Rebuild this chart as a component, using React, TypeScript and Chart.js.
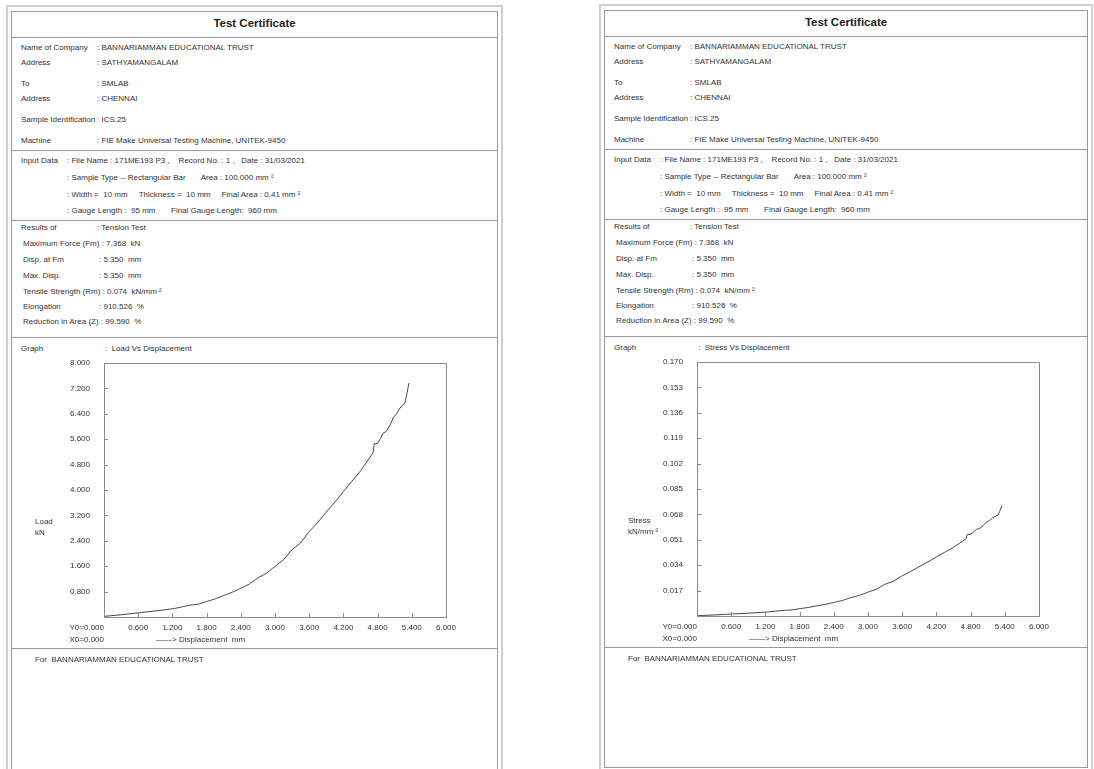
import React, { useEffect, useRef } from "react";
import { Chart, registerables } from "chart.js";
Chart.register(...registerables);

// ---- Data ----
const displacementMm = [0, 0.3, 0.65, 1.0, 1.24, 1.4, 1.53, 1.65, 1.82, 1.95, 2.12, 2.25, 2.41, 2.55, 2.7, 2.85, 2.99, 3.15, 3.29, 3.45, 3.58, 3.75, 3.93, 4.08, 4.22, 4.5, 4.72, 4.74, 4.8, 4.85, 4.9, 4.95, 5.02, 5.08, 5.12, 5.18, 5.24, 5.28, 5.31, 5.35];
const loadKN = [0.02, 0.07, 0.14, 0.21, 0.27, 0.33, 0.38, 0.4, 0.5, 0.57, 0.69, 0.78, 0.91, 1.04, 1.23, 1.38, 1.58, 1.8, 2.11, 2.33, 2.65, 2.98, 3.37, 3.68, 4.0, 4.6, 5.17, 5.45, 5.47, 5.62, 5.8, 5.84, 6.05, 6.3, 6.36, 6.55, 6.68, 6.75, 7.0, 7.37];
const stressKNmm2 = [0.0002, 0.0007, 0.0014, 0.0021, 0.0027, 0.0033, 0.0038, 0.004, 0.005, 0.0057, 0.0069, 0.0078, 0.0091, 0.0104, 0.0123, 0.0138, 0.0158, 0.018, 0.0211, 0.0233, 0.0265, 0.0298, 0.0337, 0.0368, 0.04, 0.046, 0.0517, 0.0545, 0.0547, 0.0562, 0.058, 0.0584, 0.0605, 0.063, 0.0636, 0.0655, 0.0668, 0.0675, 0.07, 0.0737];

const xTickValues = [0, 0.6, 1.2, 1.8, 2.4, 3.0, 3.6, 4.2, 4.8, 5.4, 6.0];
const loadTickValues = [0, 0.8, 1.6, 2.4, 3.2, 4.0, 4.8, 5.6, 6.4, 7.2, 8.0];
const stressTickValues = [0, 0.017, 0.034, 0.051, 0.068, 0.085, 0.102, 0.119, 0.136, 0.153, 0.17];

const companyRows = [
  ["Name of Company", ": BANNARIAMMAN EDUCATIONAL TRUST"],
  ["Address", ": SATHYAMANGALAM"],
  ["To", ": SMLAB"],
  ["Address", ": CHENNAI"],
  ["Sample Identification", ": ICS.25"],
  ["Machine", ": FIE Make Universal Testing Machine, UNITEK-9450"],
];
const companyRowY = [48, 63, 84, 99, 120, 141];

const inputLines = [
  ": File Name : 171ME193 P3 ,    Record No. : 1 ,   Date : 31/03/2021",
  ": Sample Type -- Rectangular Bar       Area : 100.000 mm \u00B2",
  ": Width =  10 mm     Thickness =  10 mm     Final Area : 0.41 mm \u00B2",
  ": Gauge Length :  95 mm       Final Gauge Length:  960 mm",
];
const inputRowY = [161, 178, 195, 211];

const resultRows = [
  ["Maximum Force (Fm)", ": 7.368  kN"],
  ["Disp. at Fm", ": 5.350  mm"],
  ["Max. Disp.", ": 5.350  mm"],
  ["Tensile Strength (Rm)", ": 0.074  kN/mm \u00B2"],
  ["Elongation", ": 910.526  %"],
  ["Reduction in Area (Z)", ": 99.590  %"],
];
const resultRowY = [244, 260, 276, 292, 307, 322];

const FONT = "'Liberation Sans', Arial, sans-serif";
const TEXT = "#333";

const frameTicks = {
  id: "frameTicks",
  afterDatasetsDraw(chart: any) {
    const { ctx, chartArea, scales } = chart;
    const { left, right, top, bottom } = chartArea;
    ctx.save();
    ctx.strokeStyle = "#8a8a8a";
    ctx.lineWidth = 1;
    ctx.strokeRect(Math.round(left) + 0.5, Math.round(top) + 0.5, Math.round(right - left), Math.round(bottom - top));
    ctx.beginPath();
    const xs = scales.x.ticks.map((t: any) => t.value);
    xs.slice(1, -1).forEach((v: number) => {
      const px = Math.round(scales.x.getPixelForValue(v)) + 0.5;
      ctx.moveTo(px, Math.round(bottom));
      ctx.lineTo(px, Math.round(bottom) - 4);
    });
    const ys = scales.y.ticks.map((t: any) => t.value);
    ys.slice(1, -1).forEach((v: number) => {
      const py = Math.round(scales.y.getPixelForValue(v)) + 0.5;
      ctx.moveTo(Math.round(left), py);
      ctx.lineTo(Math.round(left) + 4, py);
    });
    ctx.stroke();
    ctx.restore();
  },
};

function GraphCanvas({ xs, ys, yTicks, yMax, decimals }: { xs: number[]; ys: number[]; yTicks: number[]; yMax: number; decimals: number }) {
  const ref = useRef<HTMLCanvasElement>(null);
  useEffect(() => {
    if (!ref.current) return;
    const tickFont = { family: FONT, size: 8 };
    const chart = new Chart(ref.current, {
      type: "line",
      data: {
        datasets: [
          {
            data: xs.map((x, i) => ({ x, y: ys[i] })),
            borderColor: "#4a4a4a",
            borderWidth: 1,
            pointRadius: 0,
            tension: 0,
            fill: false,
          },
        ],
      },
      options: {
        responsive: false,
        animation: false,
        devicePixelRatio: 1,
        layout: { padding: { top: 13, right: 14, bottom: 13, left: 0 } },
        plugins: { legend: { display: false }, tooltip: { enabled: false } },
        scales: {
          x: {
            type: "linear",
            min: 0,
            max: 6,
            grid: { display: false, drawTicks: false },
            border: { display: false },
            ticks: {
              font: tickFont,
              color: TEXT,
              padding: 6,
              maxRotation: 0,
              autoSkip: false,
              callback: (v: any) => (Number(v) === 0 ? "" : Number(v).toFixed(3)),
            },
            afterBuildTicks: (s: any) => {
              s.ticks = xTickValues.map((value) => ({ value }));
            },
            afterFit: (s: any) => {
              s.height = 20;
              s.paddingLeft = 0;
              s.paddingRight = 0;
              s.paddingTop = 0;
              s.paddingBottom = 0;
            },
          },
          y: {
            type: "linear",
            min: 0,
            max: yMax,
            grid: { display: false, drawTicks: false },
            border: { display: false },
            ticks: {
              font: tickFont,
              color: TEXT,
              padding: 14,
              autoSkip: false,
              callback: (v: any) => (Number(v) === 0 ? "" : Number(v).toFixed(decimals)),
            },
            afterBuildTicks: (s: any) => {
              s.ticks = yTicks.map((value) => ({ value }));
            },
            afterFit: (s: any) => {
              s.width = 64;
              s.paddingLeft = 0;
              s.paddingRight = 0;
              s.paddingTop = 0;
              s.paddingBottom = 0;
            },
          },
        },
      },
      plugins: [frameTicks],
    });
    return () => chart.destroy();
  }, []);
  return <canvas ref={ref} width={420} height={300} style={{ display: "block" }} />;
}

function T({ x, y, children, align }: any) {
  return (
    <div
      style={{
        position: "absolute",
        left: align === "right" ? undefined : x,
        right: align === "right" ? 1094 - x : undefined,
        top: y - 6,
        height: 12,
        lineHeight: "12px",
        fontSize: 8,
        color: TEXT,
        whiteSpace: "pre",
      }}
    >
      {children}
    </div>
  );
}

function HLine({ x, y, w }: any) {
  return <div style={{ position: "absolute", left: x, top: y, width: w, height: 1, background: "#999" }} />;
}

function ResultRow({ L, y, label, value }: any) {
  const longLabel = label.length > 15;
  if (longLabel) {
    return <T x={L + 12} y={y}>{label + " " + value}</T>;
  }
  return (
    <>
      <T x={L + 12} y={y}>{label}</T>
      <T x={L + 88} y={y}>{value}</T>
    </>
  );
}

function Certificate({ L, W, dy, graphTitle, axisName, axisUnit, ys, yTicks, yMax, decimals, innerBottom }: any) {
  const Y = (v: number) => v + dy;
  return (
    <>
      <div
        style={{
          position: "absolute",
          left: L - 5,
          top: 5 + dy,
          width: W + 10,
          height: 800,
          border: "2px solid #cfcfcf",
          boxSizing: "border-box",
        }}
      />
      <div
        style={{
          position: "absolute",
          left: L,
          top: 11 + dy,
          width: W,
          height: innerBottom ? innerBottom - 11 - dy : 800,
          border: "1px solid #999",
          boxSizing: "border-box",
          background: "#fff",
        }}
      />
      <div
        style={{
          position: "absolute",
          left: L,
          top: Y(17),
          width: W,
          textAlign: "center",
          fontSize: 11.5,
          fontWeight: 700,
          color: "#222",
          lineHeight: "13px",
        }}
      >
        Test Certificate
      </div>
      <HLine x={L} y={Y(37)} w={W} />
      {companyRows.map((r, i) => (
        <React.Fragment key={"c" + i}>
          <T x={L + 10} y={Y(companyRowY[i])}>{r[0]}</T>
          <T x={L + 86} y={Y(companyRowY[i])}>{r[1]}</T>
        </React.Fragment>
      ))}
      <HLine x={L} y={Y(150)} w={W} />
      <T x={L + 10} y={Y(inputRowY[0])}>Input Data</T>
      {inputLines.map((s, i) => (
        <T key={"i" + i} x={L + 56} y={Y(inputRowY[i])}>{s}</T>
      ))}
      <HLine x={L} y={Y(220)} w={W} />
      <T x={L + 10} y={Y(228)}>Results of</T>
      <T x={L + 86} y={Y(228)}>: Tension Test</T>
      {resultRows.map((r, i) => (
        <ResultRow key={"r" + i} L={L} y={Y(resultRowY[i])} label={r[0]} value={r[1]} />
      ))}
      <HLine x={L} y={Y(337)} w={W} />
      <T x={L + 10} y={Y(349)}>Graph</T>
      <T x={L + 94} y={Y(349)}>{":  " + graphTitle}</T>
      <div style={{ position: "absolute", left: L + 29, top: Y(350) }}>
        <GraphCanvas xs={displacementMm} ys={ys} yTicks={yTicks} yMax={yMax} decimals={decimals} />
      </div>
      <T x={L + 24} y={Y(522)}>{axisName}</T>
      <T x={L + 24} y={Y(533)}>{axisUnit}</T>
      <T x={L + 93} y={Y(628)} align="right">Y0=0.000</T>
      <T x={L + 93} y={Y(640)} align="right">X0=0.000</T>
      <T x={L + 145} y={Y(640)}>{"\u2014\u2014> Displacement  mm"}</T>
      <HLine x={L} y={Y(648)} w={W} />
      <T x={L + 24} y={Y(660)}>For  BANNARIAMMAN EDUCATIONAL TRUST</T>
    </>
  );
}

export default function App() {
  return (
    <div
      style={{
        position: "fixed",
        left: 0,
        top: 0,
        width: 1094,
        height: 769,
        background: "#fff",
        overflow: "hidden",
        fontFamily: FONT,
      }}
    >
      <Certificate
        L={11}
        W={487}
        dy={0}
        graphTitle="Load Vs Displacement"
        axisName="Load"
        axisUnit="kN"
        ys={loadKN}
        yTicks={loadTickValues}
        yMax={8}
        decimals={3}
      />
      <Certificate
        L={604}
        W={484}
        dy={-1}
        graphTitle="Stress Vs Displacement"
        axisName="Stress"
        axisUnit={"kN/mm \u00B2"}
        ys={stressKNmm2}
        yTicks={stressTickValues}
        yMax={0.17}
        decimals={3}
        innerBottom={768}
      />
    </div>
  );
}
